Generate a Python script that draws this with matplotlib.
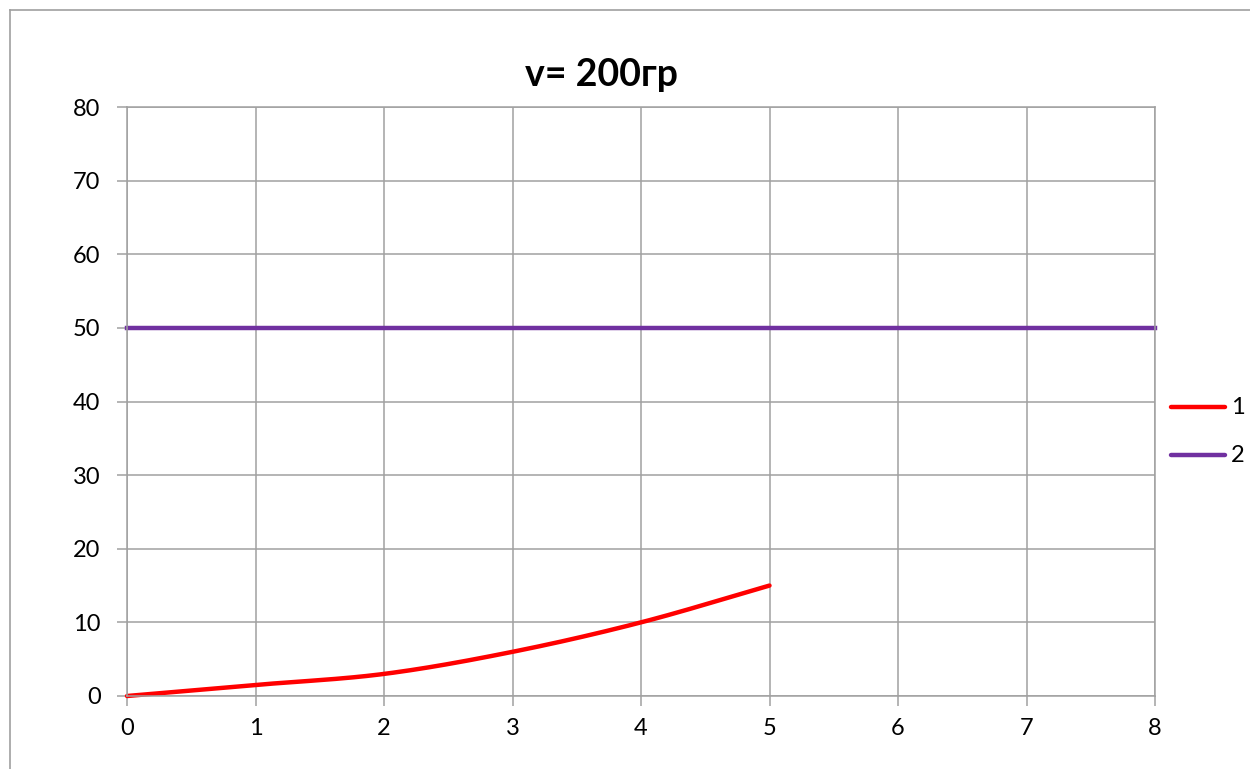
import numpy as np
import matplotlib.pyplot as plt
from matplotlib.lines import Line2D

plt.rcParams['font.family'] = ['Lato', 'DejaVu Sans']

# series 1: measured points, series 2: constant level
x1 = [0, 1, 2, 3, 4, 5]
y1 = [0, 1.5, 3, 6, 10, 15]
x2 = [0, 1, 2, 3, 4, 5, 6, 7, 8]
y2 = [50, 50, 50, 50, 50, 50, 50, 50, 50]
labels = ['1', '2']
title = 'v= 200гр'

red = '#ff0000'
purple = '#7030a0'


def smooth(xs, ys, n=30):
    # catmull-rom style curve through the points, like excel's smoothed line
    xs = np.asarray(xs, float)
    ys = np.asarray(ys, float)
    px = np.concatenate([[2 * xs[0] - xs[1]], xs, [2 * xs[-1] - xs[-2]]])
    py = np.concatenate([[2 * ys[0] - ys[1]], ys, [2 * ys[-1] - ys[-2]]])
    ox, oy = [], []
    t = np.linspace(0, 1, n)
    for i in range(1, len(px) - 2):
        for P, out in ((px, ox), (py, oy)):
            p0, p1, p2, p3 = P[i - 1], P[i], P[i + 1], P[i + 2]
            out.extend(0.5 * (2 * p1 + (-p0 + p2) * t
                              + (2 * p0 - 5 * p1 + 4 * p2 - p3) * t ** 2
                              + (-p0 + 3 * p1 - 3 * p2 + p3) * t ** 3))
    return ox, oy


fig = plt.figure(figsize=(12.5, 7.69), dpi=100)
W, H = 1250, 769
ax = fig.add_axes([127 / W, 1 - 696 / H, (1155 - 127) / W, (696 - 107) / H])

sx, sy = smooth(x1, y1)
ax.plot(sx, sy, color=red, lw=3.2, solid_capstyle='round', clip_on=False)
ax.plot(x2, y2, color=purple, lw=3.2, clip_on=False)

ax.set_xlim(0, 8)
ax.set_ylim(0, 80)
ax.set_xticks(range(0, 9))
ax.set_yticks(range(0, 81, 10))
ax.grid(True, color='#a0a0a0', lw=1.1)
ax.set_axisbelow(True)
for s in ax.spines.values():
    s.set_color('#a0a0a0')
    s.set_linewidth(1.1)
ax.tick_params(colors='#a0a0a0', labelcolor='black', labelsize=17,
               length=7, width=1.1)
ax.tick_params(axis='x', pad=9)
ax.tick_params(axis='y', pad=12)

fig.text(601 / W, 1 - 75 / H, title, ha='center', va='center',
         fontsize=27, fontweight='bold')

# legend drawn by hand at the right edge
colors = [red, purple]
for i, (lab, c) in enumerate(zip(labels, colors)):
    yy = 1 - (407 + 48 * i) / H
    fig.add_artist(Line2D([1171 / W, 1225 / W], [yy, yy], color=c, lw=3.2,
                          solid_capstyle='round', transform=fig.transFigure))
    fig.text(1231 / W, yy, lab, ha='left', va='center', fontsize=17)

# chart area border (left and top edges)
fig.add_artist(Line2D([10 / W, 10 / W], [0, 1 - 10 / H],
                      color='#a0a0a0', lw=1.2, transform=fig.transFigure))
fig.add_artist(Line2D([10 / W, 1], [1 - 10 / H, 1 - 10 / H],
                      color='#a0a0a0', lw=1.2, transform=fig.transFigure))

fig.savefig('out.png', dpi=100, facecolor='white')
